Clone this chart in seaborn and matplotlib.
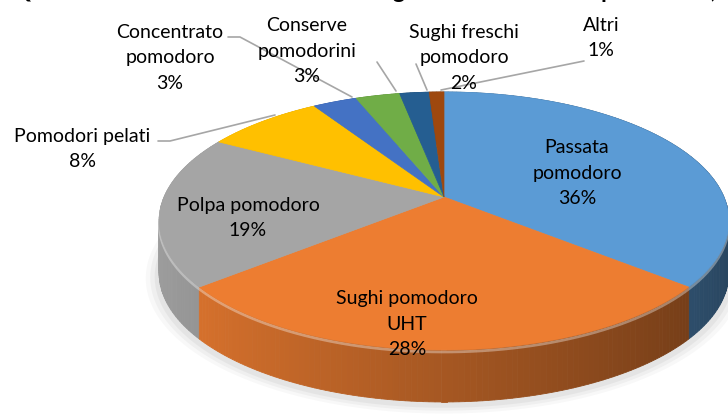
import numpy as np
import matplotlib
matplotlib.use("Agg")
import matplotlib.pyplot as plt
from matplotlib.patches import Polygon
import seaborn as sns

# ---- data ----
categories = ["Passata pomodoro", "Sughi pomodoro UHT", "Polpa pomodoro",
              "Pomodori pelati", "Concentrato pomodoro", "Conserve pomodorini",
              "Sughi freschi pomodoro", "Altri"]
shares = [36, 28, 19, 8, 3, 3, 2, 1]
label_texts = ["Passata\npomodoro", "Sughi pomodoro\nUHT", "Polpa pomodoro",
               "Pomodori pelati", "Concentrato\npomodoro", "Conserve\npomodorini",
               "Sughi freschi\npomodoro", "Altri"]
colors_hex = ["#5B9BD5", "#ED7D31", "#A5A5A5", "#FFC000",
              "#4472C4", "#70AD47", "#255E91", "#9E480E"]
title = "Quote di mercato a valore delle categorie di derivati del pomodoro,"

# ---- layout (pixel space) ----
W, H = 728, 416
CX, CY = 444, 197        # apex of the top face
D, G, F = 5.38, 670, 1506  # perspective parameters
DEPTH = 52
label_pos = [(577, 173), (407, 324), (248, 218), (82, 149),
             (170, 58), (307, 51), (464, 58), (601, 38)]
leaders = {3: [(158, 141), (170, 141), (275, 115)],
           4: [(228, 37), (240, 37), (352, 97)],
           5: [(377, 62), (396, 91)],
           6: [(416, 64), (427, 90)],
           7: [(584, 61), (441, 90)]}

sns.set_theme(style="white")
plt.rcParams["font.family"] = ["Lato", "DejaVu Sans"]
palette = sns.color_palette(colors_hex)

fig = plt.figure(figsize=(W / 100, H / 100), dpi=100)
ax = fig.add_axes([0, 0, 1, 1])
ax.set_xlim(0, W)
ax.set_ylim(H, 0)
ax.axis("off")


def proj(u, v, z=0.0):
    s = 1.0 / (D - v)
    return CX + F * u * s, CY + G * v * s + z


def arc(a0, a1, n, z=0.0, scale=1.0):
    a = np.radians(np.linspace(a0, a1, n))
    u, v = scale * np.sin(a), -scale * np.cos(a)
    return proj(u, v, z)


# soft shadow beneath the pie
for k, al in zip([1.045, 1.03, 1.015], [0.05, 0.07, 0.09]):
    xs, ys = arc(0, 360, 200, z=DEPTH + 3, scale=k)
    ax.add_patch(Polygon(np.c_[xs, ys], closed=True, fc="#7F7F7F", ec="none",
                         alpha=al, zorder=0))

total = float(sum(shares))
bounds = np.concatenate([[0], np.cumsum(shares)]) / total * 360.0

# sides: small quads sorted back to front
quads = []
for i in range(len(shares)):
    a0, a1 = bounds[i], bounds[i + 1]
    n = max(3, int((a1 - a0) / 1.0) + 2)
    angs = np.linspace(a0, a1, n)
    base = np.array(palette[i])
    for j in range(n - 1):
        am = np.radians(0.5 * (angs[j] + angs[j + 1]))
        um, vm = np.sin(am), -np.cos(am)
        x0, y0 = proj(np.sin(np.radians(angs[j])), -np.cos(np.radians(angs[j])))
        x1, y1 = proj(np.sin(np.radians(angs[j + 1])), -np.cos(np.radians(angs[j + 1])))
        fac = 0.70 - 0.26 * um
        col = np.clip(base * fac, 0, 1)
        quads.append((vm, [(x0, y0), (x1, y1), (x1, y1 + DEPTH), (x0, y0 + DEPTH)], col))
quads.sort(key=lambda q: q[0])
for vm, pts, col in quads:
    ax.add_patch(Polygon(pts, closed=True, fc=col, ec=col, lw=0.6, zorder=1))

# highlight along the front top edge
xs, ys = arc(95, 265, 200)
ax.plot(xs, ys + 2, color="white", alpha=0.35, lw=2.0, zorder=2)

# top faces
for i in range(len(shares)):
    a0, a1 = bounds[i], bounds[i + 1]
    n = max(3, int((a1 - a0) / 0.5) + 2)
    xs, ys = arc(a0, a1, n)
    pts = np.r_[[proj(0, 0)], np.c_[xs, ys]]
    ax.add_patch(Polygon(pts, closed=True, fc=palette[i], ec=palette[i],
                         lw=0.5, zorder=3))

# labels
for i, (txt, (lx, ly)) in enumerate(zip(label_texts, label_pos)):
    ax.text(lx, ly, f"{txt}\n{shares[i]}%", ha="center", va="center",
            fontsize=14, color="#000000", linespacing=1.62, zorder=5)

for i, pts in leaders.items():
    pts = np.array(pts)
    ax.plot(pts[:, 0], pts[:, 1], color="#A6A6A6", lw=1.2, zorder=4)

ax.text(W / 2, -2, title, ha="center", va="baseline", fontsize=17,
        fontweight="bold", color="#000000", zorder=6)

fig.savefig("out.png", dpi=100)
